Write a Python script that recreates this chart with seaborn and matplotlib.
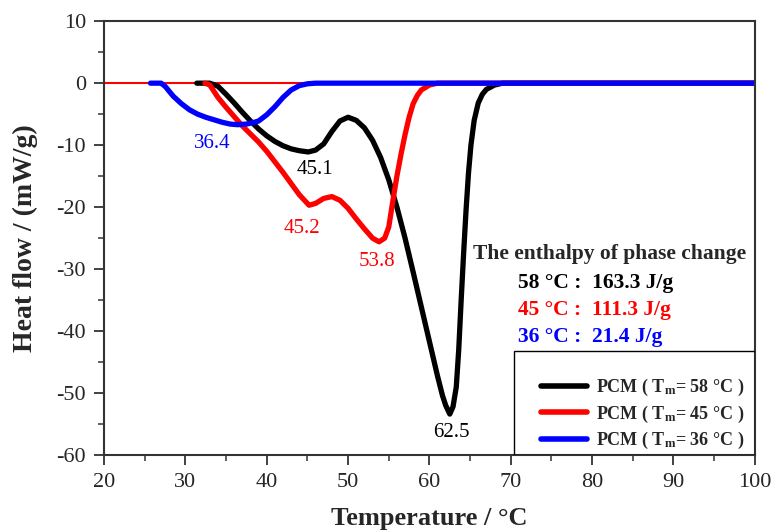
import pandas as pd
import matplotlib.pyplot as plt
import matplotlib.lines as mlines
from matplotlib.patches import Rectangle
import seaborn as sns

# ---- data ----
t_58 = [31.4, 33.0, 34.0, 35.0, 36.0, 37.0, 38.0, 39.0, 40.0, 41.0, 42.0, 43.0, 44.0, 45.1,
        46.0, 47.0, 48.0, 49.0, 50.0, 51.0, 52.0, 53.0, 54.0, 55.0, 56.0, 57.0, 58.0, 59.0,
        60.0, 61.0, 61.6, 62.0, 62.5, 62.9, 63.3, 63.6, 63.9, 64.2, 64.5, 64.8, 65.1, 65.5,
        66.0, 66.5, 67.0, 68.0, 69.0, 100.0]
hf_58 = [0.0, 0.0, -0.5, -1.8, -3.2, -4.7, -6.1, -7.4, -8.5, -9.4, -10.1, -10.6, -10.9, -11.1,
         -10.8, -9.8, -7.8, -6.1, -5.5, -6.0, -7.2, -9.2, -12.0, -15.6, -20.0, -25.0, -30.5, -36.1,
         -41.7, -47.3, -50.4, -52.0, -53.4, -52.2, -49.0, -43.0, -35.0, -27.5, -20.5, -14.5, -10.0, -6.0,
         -3.2, -1.8, -1.0, -0.3, 0.0, 0.0]

t_45 = [32.4, 33.0, 34.0, 35.0, 36.0, 37.0, 38.0, 39.0, 40.0, 41.0, 42.0, 43.0, 44.0, 45.2,
        46.0, 47.0, 48.0, 49.0, 50.0, 51.0, 52.0, 53.0, 53.8, 54.5, 55.0, 55.5, 56.0, 56.5,
        57.0, 57.5, 58.0, 58.5, 59.0, 60.0, 61.0, 100.0]
hf_45 = [0.0, -0.3, -2.3, -3.9, -5.4, -6.9, -8.2, -9.5, -11.0, -12.7, -14.4, -16.2, -18.0, -19.7,
         -19.4, -18.6, -18.3, -18.9, -20.2, -21.9, -23.5, -25.0, -25.6, -25.0, -23.2, -19.0, -15.0, -11.5,
         -8.3, -5.5, -3.3, -2.0, -1.1, -0.3, 0.0, 0.0]

t_36 = [25.7, 27.0, 27.5, 28.5, 29.5, 30.5, 31.5, 32.5, 33.5, 34.5, 35.5, 36.4, 37.5, 38.5,
        39.0, 40.0, 41.0, 42.0, 43.0, 44.0, 45.0, 46.0, 100.0]
hf_36 = [0.0, 0.0, -0.5, -2.1, -3.3, -4.3, -5.0, -5.5, -5.9, -6.3, -6.6, -6.7, -6.6, -6.3,
         -6.1, -5.1, -3.8, -2.3, -1.1, -0.4, -0.1, 0.0, 0.0]

series_names = ["58", "45", "36"]
series_colors = ["black", "red", "blue"]
enthalpy = ["163.3", "111.3", "21.4"]

# peak labels: text, x, y, colour
peak_text = ["36.4", "45.1", "45.2", "53.8", "62.5"]
peak_x = [33.3, 45.9, 44.3, 53.5, 62.7]
peak_y = [-9.8, -14.0, -23.4, -28.8, -56.3]
peak_col = ["blue", "black", "red", "red", "black"]

x_ticks = [20, 30, 40, 50, 60, 70, 80, 90, 100]
y_ticks = [10, 0, -10, -20, -30, -40, -50, -60]

sns.set_theme(style="ticks")
plt.rcParams["font.family"] = ["Liberation Serif", "DejaVu Serif"]
plt.rcParams["axes.unicode_minus"] = False
plt.rcParams["mathtext.fontset"] = "custom"
plt.rcParams["mathtext.rm"] = "Liberation Serif:bold"
plt.rcParams["mathtext.it"] = "Liberation Serif:bold"
plt.rcParams["mathtext.bf"] = "Liberation Serif:bold"

fig = plt.figure(figsize=(7.71, 5.30), dpi=100)
ax = fig.add_axes([0.135, 0.1415, 0.844, 0.8185])

# thin red baseline across the whole range
ax.axhline(0, color="red", lw=1.5, zorder=1)

curves = [(t_58, hf_58), (t_45, hf_45), (t_36, hf_36)]
for (tt, hh), name, col in zip(curves, series_names, series_colors):
    df = pd.DataFrame({"T": tt, "HF": hh})
    sns.lineplot(data=df, x="T", y="HF", ax=ax, color=col, linewidth=3.8,
                 sort=False, estimator=None, solid_joinstyle="round", zorder=2)

for s, x, y, c in zip(peak_text, peak_x, peak_y, peak_col):
    ax.text(x, y, s, color=c, fontsize=15, ha="center", va="center")

# enthalpy block
ax.text(82.2, -27.6, "The enthalpy of phase change", fontsize=15.5, fontweight="bold",
        ha="center", va="center")
for i, (name, val, col) in enumerate(zip(series_names, enthalpy, series_colors)):
    ax.text(70.9, -32.3 - 4.3 * i, f"{name} °C :  {val} J/g", fontsize=15.5,
            fontweight="bold", color=col, ha="left", va="center")

ax.set_xlim(20, 100)
ax.set_ylim(-60, 10)
ax.set_xticks(x_ticks)
ax.set_yticks(y_ticks)
ax.set_xticks(range(25, 100, 10), minor=True)
ax.set_yticks(range(-55, 10, 10), minor=True)
ax.tick_params(axis="both", which="major", direction="out", length=7, width=1.3,
               labelsize=16, pad=6, color="#333333")
ax.tick_params(axis="both", which="minor", direction="out", length=4, width=1.1,
               color="#333333")
for sp in ax.spines.values():
    sp.set_color("#333333")
    sp.set_linewidth(1.5)

ax.set_xlabel("Temperature / °C", fontsize=19, fontweight="bold", labelpad=11)
ax.set_ylabel("Heat flow / (mW/g)", fontsize=20, fontweight="bold", labelpad=13)

# legend box drawn separately so its size matches the original
ax.add_patch(Rectangle((0.63, 0.0), 0.37, 0.24, transform=ax.transAxes, fill=False,
                       edgecolor="black", lw=1.0, zorder=3))
handles = [mlines.Line2D([], [], color=c, lw=4,
                         label=rf"PCM ( T$_\mathrm{{m}}$= {n} °C )")
           for n, c in zip(series_names, series_colors)]
leg = ax.legend(handles=handles, loc="center left", bbox_to_anchor=(0.672, 0.094),
                borderaxespad=0, borderpad=0, frameon=False,
                prop={"weight": "bold", "size": 13},
                handlelength=2.55, handletextpad=0.5, labelspacing=0.3)

fig.savefig("out.png", dpi=100)
